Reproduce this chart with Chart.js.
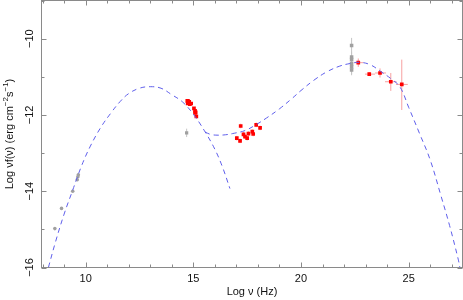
<!DOCTYPE html>
<html>
<head>
<meta charset="utf-8">
<script src="https://cdn.jsdelivr.net/npm/chart.js@4/dist/chart.umd.min.js"></script>
<style>
    body { margin: 0; background: #fff; }
    #wrap { width: 463px; height: 300px; position: relative; }
</style>
</head>
<body>
<div id="wrap"><canvas id="sedChart"></canvas></div>
<script>
// Model curves (log nu, log nu F nu)
const synchX = [8.27, 8.6, 9.0, 9.4, 9.8, 10.2, 10.7, 11.2, 11.6, 12.0, 12.5, 13.0, 13.5, 14.0, 14.5, 15.0, 15.5, 16.0, 16.35, 16.7];
const synchY = [-16.0, -15.33, -14.60, -13.97, -13.35, -12.84, -12.33, -11.93, -11.65, -11.44, -11.30, -11.26, -11.30, -11.47, -11.66, -11.98, -12.40, -12.90, -13.36, -13.93];

const totalX = [15.55, 15.8, 16.1, 16.5, 16.9, 17.4, 17.9, 18.4, 19.0, 19.6, 20.0, 20.6, 21.2, 21.8, 22.3, 22.7, 23.2, 23.7, 24.2, 24.6, 25.0, 25.5, 26.0, 26.5, 26.9, 27.3, 27.38];
const totalY = [-12.45, -12.51, -12.53, -12.52, -12.48, -12.41, -12.26, -12.08, -11.84, -11.56, -11.36, -11.09, -10.87, -10.72, -10.65, -10.62, -10.68, -10.86, -11.06, -11.27, -11.80, -12.48, -13.18, -14.12, -14.90, -15.78, -16.0];

// Archival data (gray)
const radioX = [8.57, 8.88, 9.40, 9.61, 9.64, 9.66];
const radioY = [-14.98, -14.45, -14.00, -13.70, -13.62, -13.57];

const uvGrayX = [14.69];
const uvGrayY = [-12.47];
const uvGrayYlo = [-12.58];
const uvGrayYhi = [-12.36];

const latX = [22.35, 22.35, 22.35, 22.35, 22.35, 22.35];
const latY = [-10.18, -10.48, -10.55, -10.66, -10.74, -10.82];
const latYlo = [-10.40, -10.62, -10.70, -10.86, -10.92, -10.96];
const latYhi = [-9.98, -10.34, -10.42, -10.50, -10.58, -10.70];

// Simultaneous data (red)
const optX = [14.72, 14.76, 14.81, 14.74, 14.84, 14.90, 14.80, 15.03, 15.08, 15.11, 15.08, 15.14];
const optY = [-11.63, -11.64, -11.66, -11.70, -11.72, -11.70, -11.68, -11.83, -11.89, -11.93, -11.95, -12.04];

const xrayX = [17.20, 17.02, 17.17, 17.33, 17.40, 17.50, 17.56, 17.74, 17.78, 17.92, 18.10];
const xrayY = [-12.29, -12.61, -12.68, -12.51, -12.57, -12.61, -12.49, -12.44, -12.50, -12.26, -12.34];
const xrayXerr = 0.06;
const xrayYerr = 0.06;

const gamX = [22.66, 23.17, 23.67, 24.17, 24.68];
const gamY = [-10.63, -10.93, -10.90, -11.13, -11.20];
const gamXlo = [22.47, 22.97, 23.44, 23.90, 24.41];
const gamXhi = [22.90, 23.44, 23.95, 24.44, 24.96];
const gamYlo = [-10.74, -10.98, -11.02, -11.37, -11.87];
const gamYhi = [-10.52, -10.88, -10.78, -10.90, -10.55];

// Axis ticks
const xMajor = [10, 15, 20, 25];
const yMajor = [-10, -12, -14, -16];

const pts = (xs, ys) => xs.map((x, i) => ({ x: x, y: ys[i] }));

const FONT = '"Liberation Sans", Arial, Helvetica, sans-serif';

const errorSets = [
    { x: uvGrayX, y: uvGrayY, ylo: uvGrayYlo, yhi: uvGrayYhi, color: '#c4c4c4' },
    { x: latX, y: latY, ylo: latYlo, yhi: latYhi, color: '#c4c4c4' },
    { x: xrayX, y: xrayY, xlo: xrayX.map(v => v - xrayXerr), xhi: xrayX.map(v => v + xrayXerr),
      ylo: xrayY.map(v => v - xrayYerr), yhi: xrayY.map(v => v + xrayYerr), color: '#f7a0a0' },
    { x: gamX, y: gamY, xlo: gamXlo, xhi: gamXhi, ylo: gamYlo, yhi: gamYhi, color: '#f7a0a0' }
];

const sedFrame = {
    id: 'sedFrame',
    beforeDatasetsDraw(chart) {
        const ctx = chart.ctx;
        const sx = chart.scales.x, sy = chart.scales.y;
        ctx.save();
        ctx.lineWidth = 1;
        errorSets.forEach(set => {
            ctx.strokeStyle = set.color;
            set.x.forEach((xv, i) => {
                const px = sx.getPixelForValue(xv);
                const py = sy.getPixelForValue(set.y[i]);
                ctx.beginPath();
                if (set.ylo) {
                    ctx.moveTo(px, sy.getPixelForValue(set.ylo[i]));
                    ctx.lineTo(px, sy.getPixelForValue(set.yhi[i]));
                }
                if (set.xlo) {
                    ctx.moveTo(sx.getPixelForValue(set.xlo[i]), py);
                    ctx.lineTo(sx.getPixelForValue(set.xhi[i]), py);
                }
                ctx.stroke();
            });
        });
        ctx.restore();
    },
    afterDraw(chart) {
        const ctx = chart.ctx;
        const a = chart.chartArea;
        const sx = chart.scales.x, sy = chart.scales.y;
        ctx.save();
        ctx.strokeStyle = '#8a8a8a';
        ctx.lineWidth = 1;
        ctx.strokeRect(a.left, a.top, a.right - a.left, a.bottom - a.top);

        // inward ticks on all four sides
        ctx.beginPath();
        for (let v = 8; v <= 27; v++) {
            const px = Math.round(sx.getPixelForValue(v)) + 0.5;
            const len = v % 5 === 0 ? 5 : 3;
            ctx.moveTo(px, a.bottom); ctx.lineTo(px, a.bottom - len);
            ctx.moveTo(px, a.top); ctx.lineTo(px, a.top + len);
        }
        for (let v = -16; v <= -9; v++) {
            const py = Math.round(sy.getPixelForValue(v)) + 0.5;
            const len = v % 2 === 0 ? 5 : 3;
            ctx.moveTo(a.left, py); ctx.lineTo(a.left + len, py);
            ctx.moveTo(a.right, py); ctx.lineTo(a.right - len, py);
        }
        ctx.stroke();

        // tick labels
        ctx.fillStyle = '#111';
        ctx.font = '11px ' + FONT;
        ctx.textAlign = 'center';
        ctx.textBaseline = 'middle';
        xMajor.forEach(v => {
            ctx.fillText(String(v), sx.getPixelForValue(v), 278.5);
        });
        yMajor.forEach(v => {
            ctx.save();
            ctx.translate(30, sy.getPixelForValue(v));
            ctx.rotate(-Math.PI / 2);
            ctx.fillText('\u2212' + Math.abs(v), 0, 0);
            ctx.restore();
        });

        // axis titles
        ctx.fillText('Log \u03bd (Hz)', (a.left + a.right) / 2, 291.5);

        const parts = [
            ['Log \u03bdf(\u03bd) (erg cm', false],
            ['\u22122', true],
            ['s', false],
            ['\u22121', true],
            [')', false]
        ];
        const bigFont = '11px ' + FONT, smallFont = '8px ' + FONT;
        let total = 0;
        parts.forEach(p => {
            ctx.font = p[1] ? smallFont : bigFont;
            total += ctx.measureText(p[0]).width;
        });
        ctx.save();
        ctx.translate(10, (a.top + a.bottom) / 2);
        ctx.rotate(-Math.PI / 2);
        ctx.textAlign = 'left';
        let cx = -total / 2;
        parts.forEach(p => {
            ctx.font = p[1] ? smallFont : bigFont;
            ctx.fillText(p[0], cx, p[1] ? -4 : 0);
            cx += ctx.measureText(p[0]).width;
        });
        ctx.restore();
        ctx.restore();
    }
};

const curveStyle = {
    showLine: true,
    borderColor: 'rgb(95, 95, 235)',
    borderWidth: 1,
    borderDash: [5, 4],
    pointRadius: 0,
    tension: 0.4,
    fill: false
};

const sedCtx = document.getElementById('sedChart').getContext('2d');
const sedChart = new Chart(sedCtx, {
    type: 'scatter',
    data: {
        datasets: [
            Object.assign({ label: 'synchrotron', data: pts(synchX, synchY) }, curveStyle),
            Object.assign({ label: 'total', data: pts(totalX, totalY) }, curveStyle),
            {
                label: 'radio',
                data: pts(radioX, radioY),
                pointStyle: 'circle',
                pointRadius: 1.8,
                backgroundColor: '#a0a0a0',
                borderWidth: 0
            },
            {
                label: 'uv archival',
                data: pts(uvGrayX, uvGrayY),
                pointStyle: 'rect',
                pointRadius: 2.3,
                backgroundColor: '#a0a0a0',
                borderWidth: 0
            },
            {
                label: 'lat archival',
                data: pts(latX, latY),
                pointStyle: 'rect',
                pointRadius: 2.5,
                backgroundColor: '#a0a0a0',
                borderWidth: 0
            },
            {
                label: 'optical',
                data: pts(optX, optY),
                pointStyle: 'rect',
                pointRadius: 2.6,
                backgroundColor: '#ff0000',
                borderWidth: 0
            },
            {
                label: 'xray',
                data: pts(xrayX, xrayY),
                pointStyle: 'rect',
                pointRadius: 2.6,
                backgroundColor: '#ff0000',
                borderWidth: 0
            },
            {
                label: 'gamma',
                data: pts(gamX, gamY),
                pointStyle: 'rect',
                pointRadius: 2.6,
                backgroundColor: '#ff0000',
                borderWidth: 0
            }
        ]
    },
    options: {
        responsive: true,
        maintainAspectRatio: false,
        animation: false,
        layout: {
            autoPadding: false,
            padding: { left: 41.5, right: 0.5, top: 0.5, bottom: 32.5 }
        },
        plugins: {
            legend: { display: false },
            tooltip: { enabled: false }
        },
        scales: {
            x: { type: 'linear', min: 7.95, max: 27.5, display: false },
            y: { type: 'linear', min: -16, max: -9, display: false }
        }
    },
    plugins: [sedFrame]
});
</script>
</body>
</html>
